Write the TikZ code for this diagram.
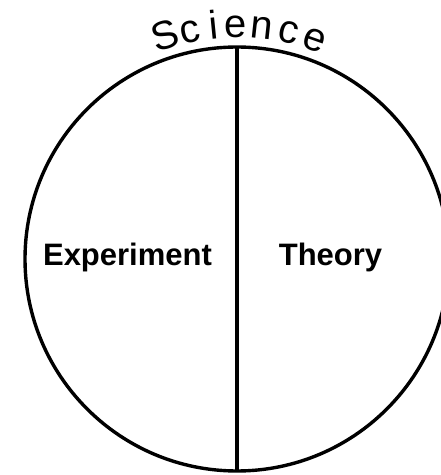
\documentclass[tikz,border=0pt]{standalone}
\usepackage{fontspec}
\setmainfont{Liberation Sans}
\usetikzlibrary{calc}
\tikzset{
  ring/.style={draw=black, line width=3.4pt, circle, minimum size=424pt, inner sep=0pt, outer sep=0pt},
  divider/.style={draw=black, line width=3.4pt},
  sidelabel/.style={font=\fontsize{31}{37}\selectfont\bfseries, anchor=base, inner sep=0pt},
  arcletter/.style={font=\fontsize{40}{46}\selectfont, anchor=base, inner sep=0pt}
}
\begin{document}
\begin{tikzpicture}[x=1pt,y=1pt]
\useasboundingbox (0,0) rectangle (441,475);
\clip (0,0) rectangle (441,475);
\coordinate (c) at (237,216);
\node[ring] (sci) at (c) {};
\draw[divider] (sci.north) -- (sci.south);
\node[sidelabel] (exp) at (127.5,209) {Experiment};
\node[sidelabel] (th) at (330.5,209) {Theory};
\node[arcletter, rotate=17.8] (l1) at ($(c)+(107.8:221.5)$) {S};
\node[arcletter, rotate=11.7] (l2) at ($(c)+(101.7:221.5)$) {c};
\node[arcletter, rotate=5.7] (l3) at ($(c)+(95.7:221.5)$) {i};
\node[arcletter, rotate=0.25] (l4) at ($(c)+(90.25:221.5)$) {e};
\node[arcletter, rotate=-6.2] (l5) at ($(c)+(83.8:221.5)$) {n};
\node[arcletter, rotate=-12.95] (l6) at ($(c)+(77.05:221.5)$) {c};
\node[arcletter, rotate=-19.4] (l7) at ($(c)+(70.6:221.5)$) {e};
\end{tikzpicture}
\end{document}
